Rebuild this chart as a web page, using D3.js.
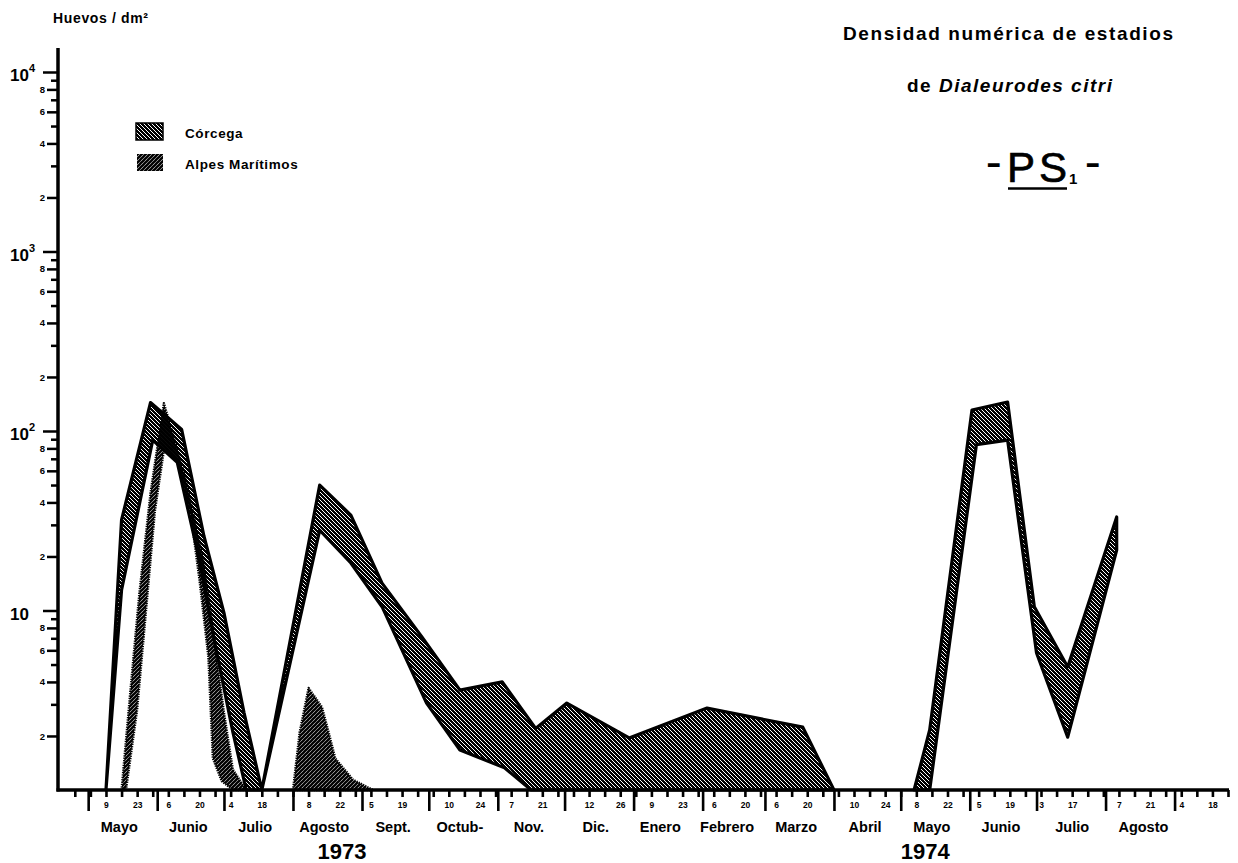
<!DOCTYPE html>
<html><head><meta charset="utf-8">
<script src="https://cdn.jsdelivr.net/npm/d3@7"></script>
<style>
body{margin:0;background:#fff}
svg{display:block}
text{font-family:"Liberation Sans",Arial,Helvetica,sans-serif;fill:#000}
</style>
</head><body>
<svg id="c" width="1238" height="863"></svg>
<script>
// ---------------- DATA ----------------
// Values are eggs per dm²; 1 = on the axis (no eggs).
// Córcega band (upper and lower limits)
const corUpper1973 = [["1973-05-09",1],["1973-05-16",32],["1973-05-29",144],["1973-06-12",102],["1973-06-22",26],["1973-07-01",9.7],["1973-07-10",2.7],["1973-07-18",1],["1973-08-13",50],["1973-08-27",34],["1973-09-10",14.2],["1973-09-28",7.1],["1973-10-15",3.6],["1973-11-03",4.0],["1973-11-18",2.2],["1973-12-02",3.05],["1973-12-30",1.95],["1974-02-03",2.86],["1974-03-18",2.24],["1974-04-01",1]];
const corLower1973 = [["1973-05-09",1],["1973-05-16",13],["1973-05-30",89],["1973-06-10",67],["1973-06-20",19],["1973-06-27",6.5],["1973-07-05",2.1],["1973-07-11",1],["1973-07-18",1],["1973-08-13",28],["1973-08-27",18.4],["1973-09-10",10.5],["1973-09-30",3.05],["1973-10-15",1.67],["1973-11-04",1.33],["1973-11-16",1],["1974-04-01",1]];
const corUpper1974 = [["1974-05-07",1],["1974-05-14",2.16],["1974-06-02",131],["1974-06-18",145],["1974-06-30",10.5],["1974-07-15",4.85],["1974-08-06",33.2]];
const corLower1974 = [["1974-05-14",1],["1974-06-04",84],["1974-06-18",89],["1974-07-01",5.8],["1974-07-15",1.97],["1974-08-06",21.7]];
// Alpes Marítimos band
const alpUpperJun = [["1973-05-16",1],["1973-05-20",3.6],["1973-05-24",12.5],["1973-05-29",45],["1973-06-04",143],["1973-06-14",53],["1973-06-22",18.4],["1973-06-27",6.3],["1973-07-01",2.7],["1973-07-05",1.3],["1973-07-11",1]];
const alpLowerJun = [["1973-05-18",1],["1973-05-23",2.8],["1973-05-27",10],["1973-05-31",36],["1973-06-04",78],["1973-06-10",69],["1973-06-16",35],["1973-06-20",14.8],["1973-06-24",5.5],["1973-06-26",1.5],["1973-06-30",1.12],["1973-07-05",1]];
const alpUpperAug = [["1973-08-01",1],["1973-08-04",2.1],["1973-08-08",3.7],["1973-08-14",2.9],["1973-08-17",2.1],["1973-08-20",1.5],["1973-08-28",1.14],["1973-09-06",1]];
const alpLowerAug = [["1973-08-01",1],["1973-09-06",1]];

// Axis ticks & labels
const xDomain = ["1973-04-17","1974-09-25"];
const dayLabelDates = ["1973-05-09","1973-05-23","1973-06-06","1973-06-20","1973-07-04","1973-07-18","1973-08-08","1973-08-22","1973-09-05","1973-09-19","1973-10-10","1973-10-24","1973-11-07","1973-11-21","1973-12-12","1973-12-26","1974-01-09","1974-01-23","1974-02-06","1974-02-20","1974-03-06","1974-03-20","1974-04-10","1974-04-24","1974-05-08","1974-05-22","1974-06-05","1974-06-19","1974-07-03","1974-07-17","1974-08-07","1974-08-21","1974-09-04","1974-09-18"];
const monthNames = ["Mayo","Junio","Julio","Agosto","Sept.","Octub-","Nov.","Dic.","Enero","Febrero","Marzo","Abril","Mayo","Junio","Julio","Agosto"];
const monthLabelDates = ["1973-05-15","1973-06-15","1973-07-15","1973-08-15","1973-09-15","1973-10-15","1973-11-15","1973-12-15","1974-01-13","1974-02-12","1974-03-15","1974-04-15","1974-05-15","1974-06-15","1974-07-17","1974-08-18"];
const yearLabels = ["1973","1974"];
const yearLabelDates = ["1973-08-23","1974-05-12"];
const yMajorValues = [10,100,1000,10000];
const yMajorExponents = ["","2","3","4"];
const yDecades = [1,10,100,1000];
const yLabeledDigits = [2,4,6,8];
const yPlainDigits = [3,5,7,9];
const legendLabels = ["Córcega","Alpes Marítimos"];

// ---------------- CHART ----------------
const parse = d3.utcParse("%Y-%m-%d");
const svg = d3.select("#c");
const x = d3.scaleUtc().domain(xDomain.map(parse)).range([57,1228]);
const y = d3.scaleLog().domain([1,10000]).range([790,72]);
const axisX = 58, baseY = 790;

const defs = svg.append("defs");
const pc = defs.append("pattern").attr("id","hCor").attr("patternUnits","userSpaceOnUse").attr("width",4).attr("height",4);
pc.append("rect").attr("width",4).attr("height",4).attr("fill","#000");
pc.append("path").attr("d","M-1,-1L5,5M-1,3L1,5M3,-1L5,1").attr("stroke","#fff").attr("stroke-width",1.0);
const pa = defs.append("pattern").attr("id","hAlp").attr("patternUnits","userSpaceOnUse").attr("width",4).attr("height",4);
pa.append("path").attr("d","M-1,5L5,-1M-1,1L1,-1M3,5L5,3").attr("stroke","#000").attr("stroke-width",2.3);

const line = d3.line();
function bandPath(upper, lower){
  const pts = upper.map(([d,v])=>[x(parse(d)), y(v)])
    .concat(lower.slice().reverse().map(([d,v])=>[x(parse(d)), y(v)]));
  return line(pts) + "Z";
}

const gCor = svg.append("g");
[[corUpper1973,corLower1973],[corUpper1974,corLower1974]].forEach(([u,l])=>{
  gCor.append("path").attr("d",bandPath(u,l)).attr("fill","url(#hCor)")
    .attr("stroke","#000").attr("stroke-width",3.2).attr("stroke-linejoin","round");
});
const gAlp = svg.append("g");
[[alpUpperJun,alpLowerJun],[alpUpperAug,alpLowerAug]].forEach(([u,l])=>{
  gAlp.append("path").attr("d",bandPath(u,l)).attr("fill","url(#hAlp)")
    .attr("stroke","#000").attr("stroke-width",2.4).attr("stroke-dasharray","1.3,1.1").attr("stroke-linejoin","round");
});

// ---- Y axis ----
const gy = svg.append("g").attr("transform",`translate(${axisX},0)`);
const plainVals = yDecades.flatMap(d=>yPlainDigits.map(m=>m*d));
const labVals = yDecades.flatMap(d=>yLabeledDigits.map(m=>m*d));
gy.append("g").call(d3.axisLeft(y).tickValues(plainVals).tickSize(7).tickFormat(""));
gy.append("g").call(d3.axisLeft(y).tickValues(labVals).tickSize(11).tickPadding(2)
  .tickFormat(d=>String(Math.round(d/Math.pow(10,Math.floor(Math.log10(d)+1e-9))))));
gy.append("g").call(d3.axisLeft(y).tickValues(yMajorValues).tickSize(15).tickFormat(""));
gy.selectAll(".domain").remove();
gy.selectAll(".tick line").attr("stroke","#000").attr("stroke-width",2.5);
gy.selectAll(".tick text").attr("font-size",9.5).attr("font-weight","bold").attr("fill","#000");
svg.append("line").attr("x1",axisX).attr("x2",axisX).attr("y1",baseY+1.5).attr("y2",48)
  .attr("stroke","#000").attr("stroke-width",3.5);
yMajorValues.forEach((v,i)=>{
  const t = svg.append("text").attr("x",10).attr("y",y(v)+9).attr("font-size",17).attr("font-weight","bold");
  t.append("tspan").text("10");
  if(yMajorExponents[i]) t.append("tspan").attr("font-size",11).attr("dy",-9).text(yMajorExponents[i]);
});

// ---- X axis ----
const gx = svg.append("g").attr("transform",`translate(0,${baseY})`);
const labSet = new Set(dayLabelDates.map(d=>parse(d).getTime()));
const weeks = d3.utcWednesday.range(parse("1973-04-25"), d3.utcDay.offset(parse(xDomain[1]),1));
const monthStarts = d3.utcMonth.range(parse("1973-05-01"), parse("1974-09-02"));
gx.append("g").call(d3.axisBottom(x).tickValues(weeks).tickSize(7).tickPadding(5)
  .tickFormat(d=>labSet.has(d.getTime()) ? String(d.getUTCDate()) : ""));
gx.append("g").call(d3.axisBottom(x).tickValues(monthStarts).tickSize(21).tickFormat(""));
gx.selectAll(".domain").remove();
gx.selectAll(".tick line").attr("stroke","#000").attr("stroke-width",2.6);
gx.selectAll(".tick text").attr("font-size",8.5).attr("font-weight","bold").attr("fill","#000");
svg.append("line").attr("x1",axisX-1.5).attr("x2",1229).attr("y1",baseY).attr("y2",baseY)
  .attr("stroke","#000").attr("stroke-width",3.5);

svg.append("g").selectAll("text").data(monthNames).join("text")
  .attr("x",(d,i)=>x(parse(monthLabelDates[i]))).attr("y",832)
  .attr("text-anchor","middle").attr("font-size",14.5).attr("font-weight","bold").text(d=>d);
svg.append("g").selectAll("text").data(yearLabels).join("text")
  .attr("x",(d,i)=>x(parse(yearLabelDates[i]))).attr("y",859)
  .attr("text-anchor","middle").attr("font-size",22).attr("font-weight","bold").text(d=>d);

// ---- Texts ----
svg.append("text").attr("x",53).attr("y",23).attr("font-size",14).attr("font-weight","bold")
  .attr("textLength",95).attr("lengthAdjust","spacing").text("Huevos / dm²");
svg.append("text").attr("x",843).attr("y",39.5).attr("font-size",19).attr("font-weight","bold")
  .attr("textLength",330).attr("lengthAdjust","spacing").text("Densidad numérica de estadios");
const t2 = svg.append("text").attr("x",907).attr("y",91.5).attr("font-size",19).attr("font-weight","bold")
  .attr("textLength",205).attr("lengthAdjust","spacing");
t2.append("tspan").text("de ");
t2.append("tspan").attr("font-style","italic").text("Dialeurodes citri");
svg.append("text").attr("x",985.8).attr("y",178).attr("font-size",48).text("-");
svg.append("text").attr("x",1007).attr("y",182).attr("font-size",42)
  .attr("stroke","#000").attr("stroke-width",0.7)
  .attr("textLength",60).attr("lengthAdjust","spacing").text("PS");
svg.append("text").attr("x",1069).attr("y",183.5).attr("font-size",15).attr("font-weight","bold").text("1");
svg.append("text").attr("x",1084.8).attr("y",178).attr("font-size",48).text("-");
svg.append("line").attr("x1",1008).attr("x2",1067).attr("y1",188.5).attr("y2",188.5)
  .attr("stroke","#000").attr("stroke-width",2.5);

// ---- Legend ----
const lg = svg.append("g");
lg.append("rect").attr("x",136).attr("y",123).attr("width",27).attr("height",17)
  .attr("fill","url(#hCor)").attr("stroke","#000").attr("stroke-width",1.5);
lg.append("rect").attr("x",137).attr("y",154).attr("width",26).attr("height",17)
  .attr("fill","url(#hAlp)");
lg.selectAll("text").data(legendLabels).join("text")
  .attr("x",185).attr("y",(d,i)=>138+i*31).attr("font-size",13.5).attr("font-weight","bold")
  .attr("letter-spacing",0.6).text(d=>d);
</script>
</body></html>
